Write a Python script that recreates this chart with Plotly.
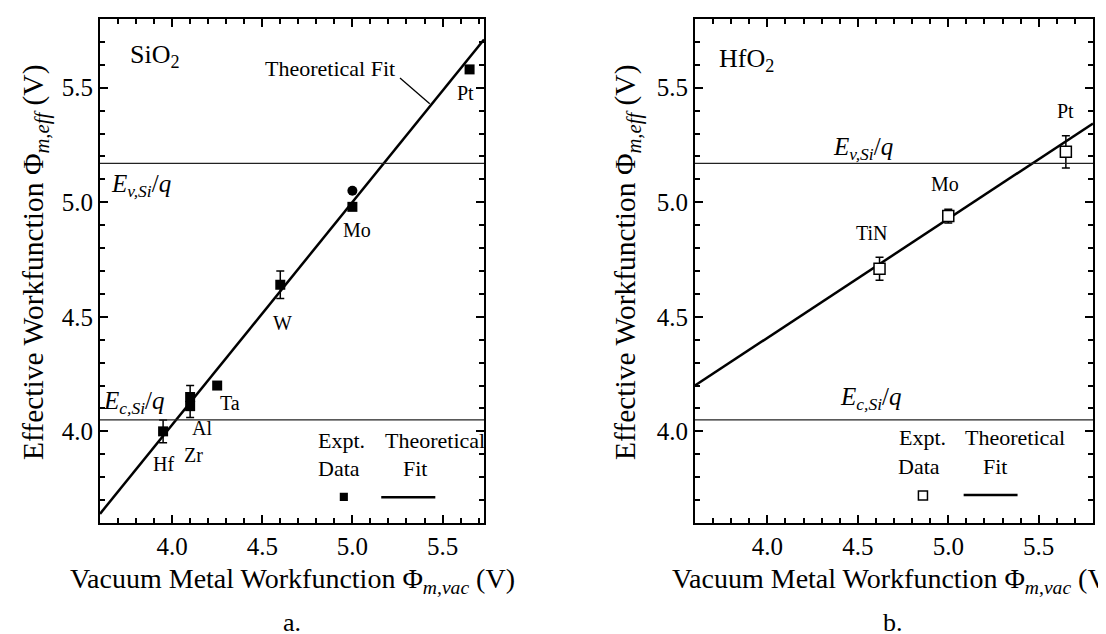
import plotly.graph_objects as go

# ---------------- data ----------------
# panel a: SiO2
sio2_metals = ["Hf", "Zr", "Al", "Ta", "W", "Mo", "Pt"]
sio2_vac = [3.95, 4.10, 4.10, 4.25, 4.60, 5.00, 5.65]
sio2_eff = [4.00, 4.11, 4.15, 4.20, 4.64, 4.98, 5.58]
sio2_err = [0.05, 0.05, 0.05, 0.0, 0.06, 0.0, 0.0]
sio2_extra_vac = [5.00]
sio2_extra_eff = [5.05]
sio2_fit_x = [3.60, 5.73]
sio2_fit_y = [3.64, 5.71]

# panel b: HfO2
hfo2_metals = ["TiN", "Mo", "Pt"]
hfo2_vac = [4.62, 5.00, 5.65]
hfo2_eff = [4.71, 4.94, 5.22]
hfo2_err = [0.05, 0.03, 0.07]
hfo2_fit_x = [3.60, 5.80]
hfo2_fit_y = [4.20, 5.344]

ev_si = 5.17
ec_si = 4.05
major_step = 0.5
minor_step = 0.1

# ---------------- layout helpers ----------------
W, H = 1106, 634
FONT = '"Liberation Serif", "Times New Roman", Times, serif'

def px(x):
    return x / W

def py(y):
    return 1 - y / H

fig = go.Figure()

# panel a traces
fig.add_trace(go.Scatter(x=sio2_fit_x, y=sio2_fit_y, mode="lines",
                         line=dict(color="black", width=2.5),
                         xaxis="x", yaxis="y", showlegend=False))
fig.add_trace(go.Scatter(x=sio2_vac, y=sio2_eff, mode="markers",
                         marker=dict(symbol="square", size=10, color="black"),
                         error_y=dict(type="data", array=sio2_err, color="black",
                                      thickness=1.5, width=4),
                         xaxis="x", yaxis="y", showlegend=False))
fig.add_trace(go.Scatter(x=sio2_extra_vac, y=sio2_extra_eff, mode="markers",
                         marker=dict(symbol="circle", size=10, color="black"),
                         xaxis="x", yaxis="y", showlegend=False))

# panel b traces
fig.add_trace(go.Scatter(x=hfo2_fit_x, y=hfo2_fit_y, mode="lines",
                         line=dict(color="black", width=2.5),
                         xaxis="x2", yaxis="y2", showlegend=False))
fig.add_trace(go.Scatter(x=hfo2_vac, y=hfo2_eff, mode="markers",
                         marker=dict(symbol="square", size=11, color="white",
                                     line=dict(color="black", width=1.5)),
                         error_y=dict(type="data", array=hfo2_err, color="black",
                                      thickness=1.5, width=4),
                         xaxis="x2", yaxis="y2", showlegend=False))

# ---------------- axes ----------------
ydom = [py(515), py(11)]

def axis_cfg(dom, rng, anchor):
    return dict(domain=dom, range=rng, anchor=anchor,
                tickmode="linear", tick0=4.0, dtick=major_step,
                tickformat=".1f", showticklabels=True,
                ticks="inside", ticklen=8, tickwidth=2, tickcolor="black",
                showline=True, linewidth=2, linecolor="black",
                mirror="allticks",
                showgrid=False, zeroline=False,
                minor=dict(ticks="inside", ticklen=5, tickwidth=1.5,
                           tickcolor="black", dtick=minor_step, tick0=4.0,
                           showgrid=False),
                tickfont=dict(family=FONT, size=25, color="black"))

fig.update_layout(
    template="none",
    width=W, height=H,
    margin=dict(l=0, r=0, t=0, b=0),
    paper_bgcolor="white", plot_bgcolor="white",
    font=dict(family=FONT, color="black"),
    xaxis=axis_cfg([px(92), px(476)], [3.6, 5.73], "y"),
    yaxis=axis_cfg(ydom, [3.6, 5.8], "x"),
    xaxis2=axis_cfg([px(687), px(1085)], [3.6, 5.8], "y2"),
    yaxis2=axis_cfg(ydom, [3.6, 5.8], "x2"),
)

shapes = []
# band edge lines
for xr, yr, xmax in (("x", "y", 5.73), ("x2", "y2", 5.8)):
    for lvl in (ev_si, ec_si):
        shapes.append(dict(type="line", xref=xr, yref=yr, x0=3.6, x1=xmax,
                           y0=lvl, y1=lvl, line=dict(color="#222", width=1.3)))
# leader line for "Theoretical Fit" (panel a)
shapes.append(dict(type="line", xref="x", yref="y", x0=5.264, y0=5.542,
                   x1=5.429, y1=5.43, line=dict(color="black", width=1.3)))
# legend samples
shapes.append(dict(type="rect", xref="x", yref="y", x0=4.93, x1=4.975,
                   y0=3.696, y1=3.732, fillcolor="black",
                   line=dict(color="black", width=0)))
shapes.append(dict(type="line", xref="x", yref="y", x0=5.16, x1=5.46,
                   y0=3.712, y1=3.712, line=dict(color="black", width=2.5)))
shapes.append(dict(type="rect", xref="x2", yref="y2", x0=4.835, x1=4.885,
                   y0=3.70, y1=3.74, fillcolor="white",
                   line=dict(color="black", width=1.5)))
shapes.append(dict(type="line", xref="x2", yref="y2", x0=5.085, x1=5.383,
                   y0=3.722, y1=3.722, line=dict(color="black", width=2.5)))
fig.update_layout(shapes=shapes)

ann = []

def t(text, x, y, xr="x", yr="y", size=20, xanchor="center"):
    ann.append(dict(text=text, x=x, y=y, xref=xr, yref=yr, showarrow=False,
                    xanchor=xanchor, yanchor="middle",
                    font=dict(family=FONT, size=size, color="black")))

# panel a texts
t("SiO<sub>2</sub>", 3.755, 5.64, size=26, xanchor="left")
t("Theoretical Fit", 4.874, 5.583, size=22)
t("<i>E</i><sub><i>v,Si</i></sub>/<i>q</i>", 3.83, 5.075, size=25)
t("<i>E</i><sub><i>c,Si</i></sub>/<i>q</i>", 3.79, 4.124, size=25)
lab_a = {"Hf": (3.95, 3.858), "Zr": (4.121, 3.895), "Al": (4.166, 4.015),
         "Ta": (4.32, 4.124), "W": (4.61, 4.475), "Mo": (5.025, 4.88),
         "Pt": (5.625, 5.477)}
for m in sio2_metals:
    lx, ly = lab_a[m]
    t(m, lx, ly, size=20)
t("Expt.", 4.94, 3.96, size=22)
t("Data", 4.926, 3.837, size=22)
t("Theoretical", 5.458, 3.96, size=22)
t("Fit", 5.345, 3.837, size=22)

# panel b texts
t("HfO<sub>2</sub>", 3.72, 5.623, "x2", "y2", size=26, xanchor="left")
t("<i>E</i><sub><i>v,Si</i></sub>/<i>q</i>", 4.53, 5.236, "x2", "y2", size=25)
t("<i>E</i><sub><i>c,Si</i></sub>/<i>q</i>", 4.575, 4.145, "x2", "y2", size=25)
lab_b = {"TiN": (4.58, 4.867), "Mo": (4.98, 5.08), "Pt": (5.65, 5.40)}
for m in hfo2_metals:
    lx, ly = lab_b[m]
    t(m, lx, ly, "x2", "y2", size=20)
t("Expt.", 4.86, 3.975, "x2", "y2", size=22)
t("Data", 4.84, 3.848, "x2", "y2", size=22)
t("Theoretical", 5.37, 3.975, "x2", "y2", size=22)
t("Fit", 5.26, 3.848, "x2", "y2", size=22)

# axis titles
xt = "Vacuum Metal Workfunction Φ<sub><i>m,vac</i></sub> (V)"
yt = "Effective Workfunction Φ<sub><i>m,eff</i></sub> (V)"
for cx in (284, 886):
    ann.append(dict(text=xt, x=px(cx), y=py(572), xref="paper", yref="paper",
                    showarrow=False, xanchor="center", yanchor="middle",
                    font=dict(family=FONT, size=28, color="black")))
for cx in (28, 620):
    ann.append(dict(text=yt, x=px(cx), y=py(255), xref="paper", yref="paper",
                    showarrow=False, xanchor="center", yanchor="middle",
                    textangle=-90,
                    font=dict(family=FONT, size=29.5, color="black")))
for txt, cx in (("a.", 284), ("b.", 885)):
    ann.append(dict(text=txt, x=px(cx), y=py(631), xref="paper", yref="paper",
                    showarrow=False, xanchor="center", yanchor="bottom",
                    font=dict(family=FONT, size=26, color="black")))

fig.update_layout(annotations=ann)
fig.write_html("out.html")
